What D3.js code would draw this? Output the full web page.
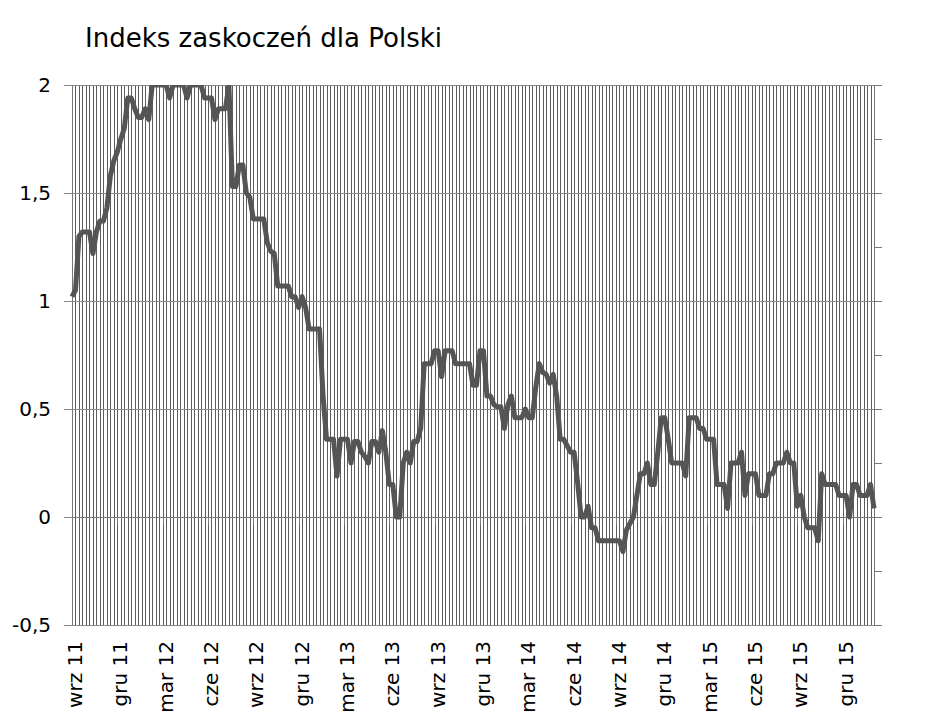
<!DOCTYPE html>
<html>
<head>
<meta charset="utf-8">
<script src="https://cdn.jsdelivr.net/npm/d3@7"></script>
<style>
	body { margin: 0; background: #fff; }
	text { font-family: "DejaVu Sans", Verdana, sans-serif; fill: #000; }
</style>
</head>
<body>
<svg id="chart" width="931" height="719"></svg>
<script>
const title = "Indeks zaskoczeń dla Polski";

// weekly index values
const values = [
	1.02, 1.05, 1.30, 1.32, 1.32, 1.32, 1.22, 1.32, 1.37, 1.37,
	1.43, 1.58, 1.65, 1.69, 1.75, 1.80, 1.94, 1.94, 1.89, 1.85,
	1.85, 1.89, 1.84, 2.00, 2.00, 2.00, 2.00, 2.00, 1.94, 2.00,
	2.00, 2.00, 2.00, 1.94, 2.00, 2.00, 2.00, 2.00, 1.94, 1.94,
	1.94, 1.84, 1.89, 1.89, 1.89, 2.00, 1.53, 1.53, 1.63, 1.63,
	1.50, 1.48, 1.38, 1.38, 1.38, 1.38, 1.27, 1.23, 1.22, 1.07,
	1.07, 1.07, 1.07, 1.02, 1.02, 0.97, 1.02, 0.97, 0.87, 0.87,
	0.87, 0.87, 0.56, 0.36, 0.36, 0.36, 0.19, 0.36, 0.36, 0.36,
	0.25, 0.35, 0.35, 0.30, 0.28, 0.25, 0.35, 0.35, 0.30, 0.40,
	0.30, 0.15, 0.15, 0.00, 0.00, 0.25, 0.30, 0.25, 0.35, 0.35,
	0.41, 0.71, 0.71, 0.71, 0.77, 0.77, 0.65, 0.77, 0.77, 0.77,
	0.71, 0.71, 0.71, 0.71, 0.71, 0.61, 0.61, 0.77, 0.77, 0.56,
	0.56, 0.52, 0.51, 0.51, 0.41, 0.52, 0.56, 0.46, 0.46, 0.46,
	0.50, 0.46, 0.46, 0.60, 0.71, 0.67, 0.66, 0.62, 0.66, 0.56,
	0.36, 0.36, 0.33, 0.30, 0.30, 0.16, 0.00, 0.00, 0.05, -0.05,
	-0.05, -0.11, -0.11, -0.11, -0.11, -0.11, -0.11, -0.11, -0.16, -0.06,
	-0.03, 0.00, 0.10, 0.20, 0.20, 0.25, 0.15, 0.15, 0.30, 0.46,
	0.46, 0.36, 0.25, 0.25, 0.25, 0.25, 0.19, 0.46, 0.46, 0.46,
	0.41, 0.41, 0.36, 0.36, 0.36, 0.15, 0.15, 0.15, 0.04, 0.25,
	0.25, 0.25, 0.30, 0.10, 0.20, 0.20, 0.20, 0.10, 0.10, 0.10,
	0.20, 0.20, 0.25, 0.25, 0.25, 0.30, 0.25, 0.25, 0.05, 0.10,
	0.00, -0.05, -0.05, -0.05, -0.11, 0.20, 0.15, 0.15, 0.15, 0.15,
	0.10, 0.10, 0.10, 0.00, 0.15, 0.15, 0.10, 0.10, 0.10, 0.15,
	0.04
];

const categories = d3.range(values.length);

const tickLabels = ["wrz 11", "gru 11", "mar 12", "cze 12", "wrz 12", "gru 12",
	"mar 13", "cze 13", "wrz 13", "gru 13", "mar 14", "cze 14",
	"wrz 14", "gru 14", "mar 15", "cze 15", "wrz 15", "gru 15"];
const labelEvery = 13;

const yTicks = [-0.5, 0, 0.5, 1, 1.5, 2];
const yMinorTicks = [-0.5, -0.25, 0, 0.25, 0.5, 0.75, 1, 1.25, 1.5, 1.75, 2];

const plotLeft = 72;
const plotRight = 874;
const plotTop = 85;
const plotBottom = 625;
const gridColor = "#5c5c5c";
const lineColor = "#555";

const chart = d3.select("#chart");

const x = d3.scalePoint()
	.domain(categories)
	.range([plotLeft, plotRight]);

const y = d3.scaleLinear()
	.domain([-0.5, 2])
	.range([plotBottom, plotTop]);

chart.append("text")
	.text(title)
	.attr("x", 85)
	.attr("y", 47)
	.attr("font-size", "26px");

// vertical gridlines, one per week
chart.append("g")
	.attr("stroke", gridColor)
	.attr("stroke-width", 1)
	.selectAll("line")
	.data(categories)
	.enter()
	.append("line")
	.attr("x1", d => Math.round(x(d)) + 0.5)
	.attr("x2", d => Math.round(x(d)) + 0.5)
	.attr("y1", plotTop)
	.attr("y2", plotBottom);

// horizontal gridlines with left ticks
chart.append("g")
	.attr("stroke", "#888")
	.attr("stroke-width", 1)
	.selectAll("line")
	.data(yTicks)
	.enter()
	.append("line")
	.attr("x1", plotLeft - 8)
	.attr("x2", plotRight)
	.attr("y1", d => Math.round(y(d)) + 0.5)
	.attr("y2", d => Math.round(y(d)) + 0.5);

// right axis, no labels
const rightAxis = d3.axisRight(y)
	.tickValues(yMinorTicks)
	.tickSize(8)
	.tickSizeOuter(0)
	.tickFormat("");
chart.append("g")
	.attr("transform", "translate(" + plotRight + ",0)")
	.call(rightAxis)
	.call(g => g.selectAll("line, path").attr("stroke", "#777"));

// left axis line
chart.append("line")
	.attr("x1", plotLeft + 0.5)
	.attr("x2", plotLeft + 0.5)
	.attr("y1", plotTop)
	.attr("y2", plotBottom)
	.attr("stroke", "#777");

// y labels, comma decimals and plain hyphen
const yFormat = d => String(d).replace(".", ",");
chart.append("g")
	.selectAll("text")
	.data(yTicks)
	.enter()
	.append("text")
	.text(yFormat)
	.attr("x", 51)
	.attr("y", d => y(d))
	.attr("dy", "0.36em")
	.attr("text-anchor", "end")
	.attr("font-size", "20px");

// x axis at zero
const tickIdx = tickLabels.map((t, i) => i * labelEvery);
chart.append("line")
	.attr("x1", plotLeft)
	.attr("x2", plotRight)
	.attr("y1", Math.round(y(0)) + 0.5)
	.attr("y2", Math.round(y(0)) + 0.5)
	.attr("stroke", "#777");
chart.append("g")
	.attr("stroke", "#777")
	.selectAll("line")
	.data(tickIdx)
	.enter()
	.append("line")
	.attr("x1", d => Math.round(x(d)) + 0.5)
	.attr("x2", d => Math.round(x(d)) + 0.5)
	.attr("y1", y(0))
	.attr("y2", y(0) + 8);

chart.append("g")
	.selectAll("text")
	.data(tickLabels)
	.enter()
	.append("text")
	.text(d => d)
	.attr("text-anchor", "end")
	.attr("font-size", "20px")
	.attr("transform", (d, i) => "translate(" + (x(tickIdx[i]) + 10) + ", 641) rotate(-90)");

// series
chart.append("clipPath")
	.attr("id", "plot")
	.append("rect")
	.attr("x", plotLeft - 5)
	.attr("y", plotTop)
	.attr("width", plotRight - plotLeft + 10)
	.attr("height", plotBottom - plotTop);

const line = d3.line()
	.x((d, i) => x(categories[i]))
	.y(d => y(d));

chart.append("path")
	.datum(values)
	.attr("clip-path", "url(#plot)")
	.attr("fill", "none")
	.attr("stroke", lineColor)
	.attr("stroke-width", 5)
	.attr("stroke-linejoin", "round")
	.attr("d", line);
</script>
</body>
</html>
